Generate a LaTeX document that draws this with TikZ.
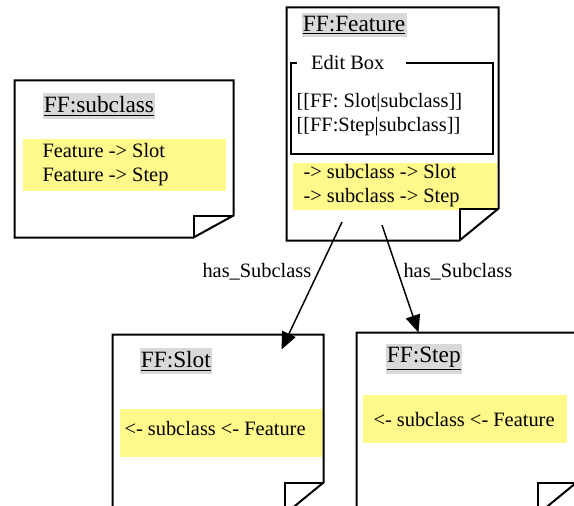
\documentclass[tikz,border=0pt]{standalone}
\usepackage{fontspec}
\setmainfont{Liberation Serif}
\usetikzlibrary{arrows.meta,calc,fit}

\tikzset{every picture/.style={line width=0.75pt}}
\tikzset{
  page/.style={inner sep=0pt},
  pageline/.style={line width=1.5pt, line join=miter},
  pagetitle/.style={fill=gray!30, inner xsep=1pt, inner ysep=2.5pt, anchor=west,
    font=\fontsize{17.5}{20}\selectfont},
  band/.style={fill=yellow!45, inner sep=0pt},
  txt/.style={anchor=west, inner sep=0pt, align=left},
  rel/.style={-{Triangle[length=13pt,width=11pt]}, line width=1.1pt},
}
% page outline with a folded corner: node, fold width, fold height
\newcommand{\foldpage}[3]{%
  \draw[pageline] (#1.north west) -- (#1.north east) -- ($(#1.south east)+(0,-#3)$)
    -- ($(#1.south east)+(-#2,0)$) -- (#1.south west) -- cycle;
  \draw[pageline] ($(#1.south east)+(0,-#3)$) -- ($(#1.south east)+(-#2,-#3)$)
    -- ($(#1.south east)+(-#2,0)$);
}

\begin{document}
\begin{tikzpicture}[x=0.75pt,y=0.75pt,yscale=-1,xscale=1,font=\fontsize{15.3}{18}\selectfont]
\useasboundingbox (0,0) rectangle (574,506);
\clip (0,0) rectangle (574,506);

% pages
\node[page, fit={(287,8) (498,240)}] (feature) {};
\node[page, fit={(15,81) (233,237)}] (subclass) {};
\node[page, fit={(113,335) (323,514)}] (slot) {};
\node[page, fit={(357,333) (576,514)}] (step) {};

% yellow bands
\node[band, fit={(293,163) (497,210)}] (featureband) {};
\node[band, fit={(23,139) (226,191)}] (subclassband) {};
\node[band, fit={(120,409) (323,457)}] (slotband) {};
\node[band, fit={(363,395) (567,443)}] (stepband) {};

\foldpage{feature}{39}{32}
\foldpage{subclass}{40}{22}
\foldpage{slot}{39}{32}
\foldpage{step}{39}{32}

% titles
\node[pagetitle] (featuretitle) at (301,25) {\underline{FF:Feature}};
\node[pagetitle] (subclasstitle) at (42,106) {\underline{FF:subclass}};
\node[pagetitle] (slottitle) at (139,361) {\underline{FF:Slot}};
\node[pagetitle] (steptitle) at (385,359) {\underline{FF:Step}};

% edit box
\node[inner sep=0pt, draw, line width=1.5pt, fit={(291,63) (493,154)}] (editbox) {};
\node[fill=white, inner sep=0pt, anchor=west, minimum height=14pt] (editlabel) at (296,63)
  {\kern11pt Edit Box\kern16pt};
\node[txt] (editlinks) at (296,115) {{[}[FF: Slot|subclass]]\\{[}[FF:Step|subclass]]};

% texts
\node[txt] (featurerel) at (303,186) {-> subclass -> Slot\\-> subclass -> Step};
\node[txt] (subclassrel) at (42,165) {Feature -> Slot\\Feature -> Step};
\node[txt] (slotrel) at (124,429) {<- subclass <- Feature};
\node[txt] (steprel) at (373,420) {<- subclass <- Feature};

% connectors
\coordinate (from1) at (342,222);
\coordinate (from2) at (382,225);
\coordinate (to1) at ($(slot.north east)+(-42,15)$);
\coordinate (to2) at ($(step.north west)+(62,0)$);
\draw[rel] (from1) -- (to1);
\draw[rel] (from2) -- (to2);
\node[txt] (lbl1) at (202,272) {has\_Subclass};
\node[txt] (lbl2) at (403,272) {has\_Subclass};

\end{tikzpicture}
\end{document}
